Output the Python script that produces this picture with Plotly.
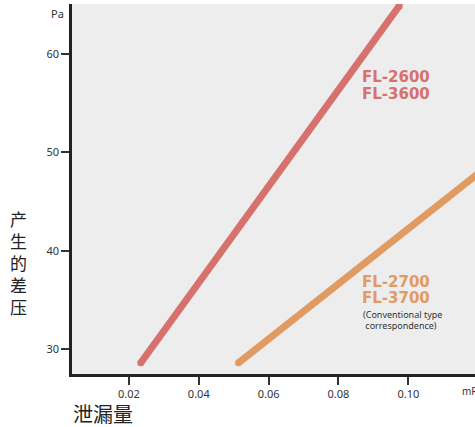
import plotly.graph_objects as go

# Data
series_names = ["FL-2600 / FL-3600", "FL-2700 / FL-3700"]
red_x = [0.0234, 0.0974]
red_y = [28.6, 64.9]
orange_x = [0.0514, 0.1205]
orange_y = [28.6, 48.0]
x_ticks = [0.02, 0.04, 0.06, 0.08, 0.10]
x_tick_labels = ["0.02", "0.04", "0.06", "0.08", "0.10"]
y_ticks = [30, 40, 50, 60]
y_tick_labels = ["30", "40", "50", "60"]

RED = "#d6716d"
ORANGE = "#e09b62"

W, H = 475, 427
L, R, T, B = 72, 0, 4, 53
PW, PH = W - L - R, H - T - B

def px(x):
    return (x - L) / PW

def py(y):
    return (H - B - y) / PH

fig = go.Figure()
for xs, ys, c, n in [(red_x, red_y, RED, series_names[0]), (orange_x, orange_y, ORANGE, series_names[1])]:
    fig.add_trace(go.Scatter(x=xs, y=ys, mode="lines+markers", name=n,
                             line=dict(color=c, width=7),
                             marker=dict(color=c, size=7, line=dict(width=0)),
                             cliponaxis=True, showlegend=False, hoverinfo="skip"))

ann = []
# y axis title, stacked characters
ann.append(dict(text="<br>".join("产生的差压"), x=px(18), y=py(262), xref="paper", yref="paper",
                xanchor="center", yanchor="middle", showarrow=False,
                font=dict(family="Noto Sans CJK SC", size=17, color="#222")))
ann.append(dict(text="泄漏量", x=px(71), y=py(413), xref="paper", yref="paper",
                xanchor="left", yanchor="middle", showarrow=False,
                font=dict(family="Noto Sans CJK SC", size=20, color="#222")))
ann.append(dict(text="Pa", x=px(57), y=py(14), xref="paper", yref="paper",
                xanchor="center", yanchor="middle", showarrow=False,
                font=dict(family="Noto Sans", size=11, color="#333")))
ann.append(dict(text="mR", x=px(460), y=py(391), xref="paper", yref="paper",
                xanchor="left", yanchor="middle", showarrow=False,
                font=dict(family="Noto Sans", size=10, color="#333")))
for t, yy, c in [("FL-2600", 77, RED), ("FL-3600", 94, RED), ("FL-2700", 282, ORANGE), ("FL-3700", 298, ORANGE)]:
    ann.append(dict(text="<b>%s</b>" % t, x=px(360), y=py(yy), xref="paper", yref="paper",
                    xanchor="left", yanchor="middle", showarrow=False,
                    font=dict(family="DejaVu Sans", size=15, color=c)))
for t, yy in [("(Conventional type", 314), (" correspondence)", 325)]:
    ann.append(dict(text=t, x=px(361), y=py(yy), xref="paper", yref="paper",
                    xanchor="left", yanchor="middle", showarrow=False,
                    font=dict(family="Noto Sans", size=9, color="#333")))

fig.update_layout(
    width=W, height=H,
    margin=dict(l=L, r=R, t=T, b=B, pad=0),
    paper_bgcolor="white", plot_bgcolor="#ededed",
    annotations=ann,
    xaxis=dict(range=[0.0037, 0.1191], tickvals=x_ticks, ticktext=x_tick_labels,
               showgrid=False, zeroline=False, showline=True, linecolor="#222", linewidth=2.5,
               ticks="outside", ticklen=8, tickwidth=1.5, tickcolor="#333",
               tickfont=dict(family="Noto Sans", size=11, color="#333")),
    yaxis=dict(range=[27.46, 65.1], tickvals=y_ticks, ticktext=y_tick_labels,
               showgrid=False, zeroline=False, showline=True, linecolor="#222", linewidth=2.5,
               ticks="outside", ticklen=8, tickwidth=1.5, tickcolor="#333",
               tickfont=dict(family="Noto Sans", size=11, color="#333")),
)

fig.write_html("out.html", config={"displayModeBar": False},
               post_script="document.body.style.margin='0';document.body.style.overflow='hidden';")
